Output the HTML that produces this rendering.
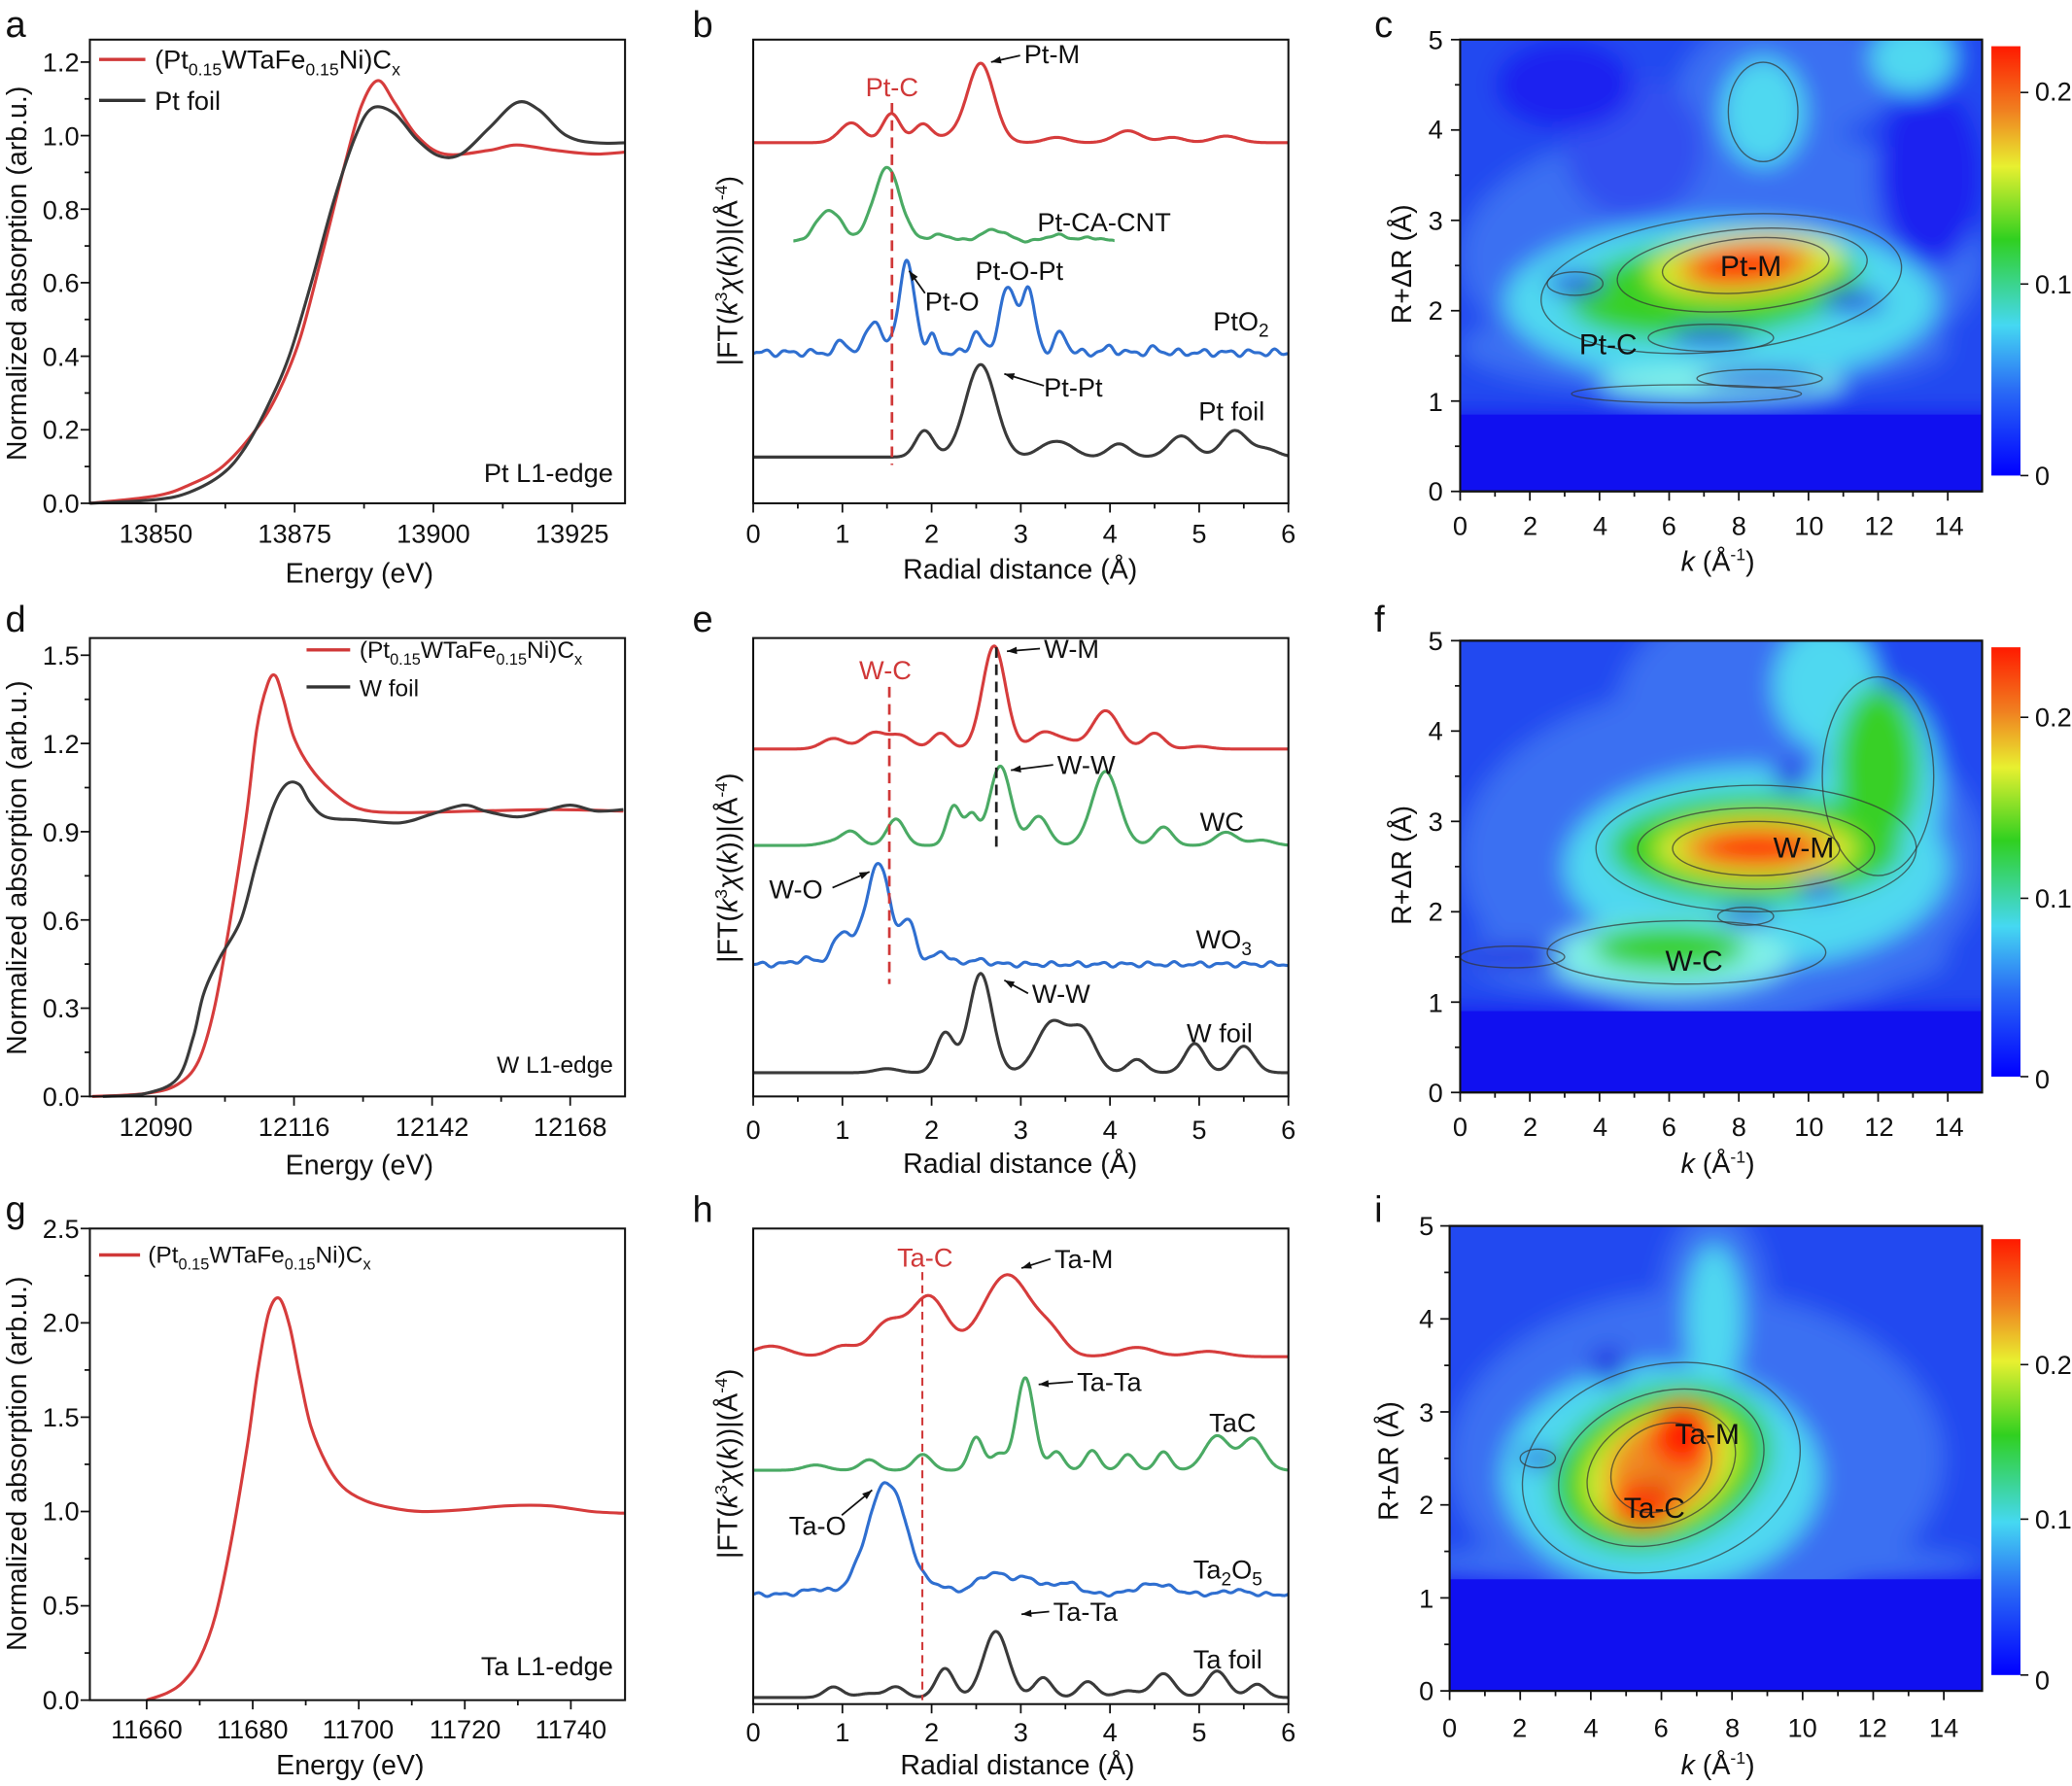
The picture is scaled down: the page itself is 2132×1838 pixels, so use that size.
<!DOCTYPE html>
<html><head><meta charset="utf-8"><style>
html,body{margin:0;padding:0;background:#fff}
svg{display:block}
text{font-family:"Liberation Sans",Arial,sans-serif;fill:#111}
.t{font-size:20px}.tt{font-size:21px}.L{font-size:28px}.s{font-size:20px}
</style></head><body>
<svg id="S" width="2132" height="1838" viewBox="0 0 1568 1352" preserveAspectRatio="none" xmlns="http://www.w3.org/2000/svg">
<defs>
<filter id="bl" x="-50%" y="-50%" width="200%" height="200%"><feGaussianBlur stdDeviation="9"/></filter>
<clipPath id="cc"><rect x="1105" y="30" width="395" height="342"/></clipPath>
<clipPath id="cf"><rect x="1105" y="485" width="395" height="342"/></clipPath>
<clipPath id="ci"><rect x="1097" y="928" width="403" height="352"/></clipPath>
<clipPath id="ca"><rect x="68" y="0" width="405" height="390"/></clipPath>
<clipPath id="cd"><rect x="68" y="470" width="405" height="370"/></clipPath>
<clipPath id="cg"><rect x="68" y="920" width="405" height="370"/></clipPath>
<linearGradient id="cb" x1="0" y1="1" x2="0" y2="0">
<stop offset="0" stop-color="#0000ff"/><stop offset="0.2" stop-color="#2a6cf5"/><stop offset="0.35" stop-color="#45d8f2"/><stop offset="0.55" stop-color="#30d020"/><stop offset="0.72" stop-color="#e8f030"/><stop offset="0.85" stop-color="#f08020"/><stop offset="1" stop-color="#ff1a00"/></linearGradient>
</defs>
<g id="G"></g>

<text class="L" x="4" y="28">a</text><text class="L" x="524" y="28">b</text><text class="L" x="1040" y="28">c</text>
<text class="L" x="4" y="478">d</text><text class="L" x="524" y="478">e</text><text class="L" x="1040" y="478">f</text>
<text class="L" x="4" y="925">g</text><text class="L" x="524" y="925">h</text><text class="L" x="1040" y="925">i</text>

<!-- a -->
<g class="t" text-anchor="end"><text x="60" y="388">0.0</text><text x="60" y="332">0.2</text><text x="60" y="277">0.4</text><text x="60" y="221">0.6</text><text x="60" y="166">0.8</text><text x="60" y="110">1.0</text><text x="60" y="54">1.2</text></g>
<g class="t" text-anchor="middle"><text x="118" y="411">13850</text><text x="223" y="411">13875</text><text x="328" y="411">13900</text><text x="433" y="411">13925</text></g>
<text class="tt" x="272" y="441" text-anchor="middle">Energy (eV)</text>
<text class="tt" transform="translate(20,207) rotate(-90)" text-anchor="middle">Normalized absorption (arb.u.)</text>
<line x1="75" y1="45" x2="110" y2="45" stroke="#d03838" stroke-width="2.5"/><line x1="75" y1="76" x2="110" y2="76" stroke="#333" stroke-width="2.5"/>
<text class="s" x="117" y="52">(Pt<tspan font-size="13" dy="5">0.15</tspan><tspan dy="-5">WTaFe</tspan><tspan font-size="13" dy="5">0.15</tspan><tspan dy="-5">Ni)C</tspan><tspan font-size="13" dy="5">x</tspan></text>
<text class="s" x="117" y="83">Pt foil</text>
<text class="s" x="464" y="365" text-anchor="end">Pt L1-edge</text>

<!-- b -->
<g class="t" text-anchor="middle"><text x="570" y="411">0</text><text x="637.5" y="411">1</text><text x="705" y="411">2</text><text x="772.5" y="411">3</text><text x="840" y="411">4</text><text x="907.5" y="411">5</text><text x="975" y="411">6</text></g>
<text class="tt" x="772" y="438" text-anchor="middle">Radial distance (Å)</text>
<text class="tt" transform="translate(558,205) rotate(-90)" text-anchor="middle">|FT(<tspan font-style="italic">k</tspan><tspan font-size="13" dy="-8">3</tspan><tspan dy="8" font-style="italic">χ</tspan>(<tspan font-style="italic">k</tspan>))|(Å<tspan font-size="13" dy="-8">-4</tspan><tspan dy="8">)</tspan></text>
<line x1="675" y1="78" x2="675" y2="352" stroke="#d03838" stroke-width="2" stroke-dasharray="8,5"/>
<text class="s" x="675" y="73" text-anchor="middle" style="fill:#d03838">Pt-C</text>
<text class="s" x="775" y="48">Pt-M</text>
<text class="s" x="785" y="175">Pt-CA-CNT</text>
<text class="s" x="738" y="212">Pt-O-Pt</text>
<text class="s" x="700" y="235">Pt-O</text>
<text class="s" x="918" y="250">PtO<tspan font-size="14" dy="5">2</tspan></text>
<text class="s" x="790" y="300">Pt-Pt</text>
<text class="s" x="907" y="318">Pt foil</text>

<!-- c -->
<g class="t" text-anchor="end"><text x="1092" y="379">0</text><text x="1092" y="311">1</text><text x="1092" y="242">2</text><text x="1092" y="174">3</text><text x="1092" y="105">4</text><text x="1092" y="37">5</text></g>
<g class="t" text-anchor="middle"><text x="1105" y="405">0</text><text x="1158" y="405">2</text><text x="1211" y="405">4</text><text x="1263" y="405">6</text><text x="1316" y="405">8</text><text x="1369" y="405">10</text><text x="1422" y="405">12</text><text x="1475" y="405">14</text></g>
<text class="tt" x="1300" y="432" text-anchor="middle"><tspan font-style="italic">k</tspan> (Å<tspan font-size="13" dy="-8">-1</tspan><tspan dy="8">)</tspan></text>
<text class="tt" transform="translate(1068,200) rotate(-90)" text-anchor="middle">R+ΔR (Å)</text>
<g class="t"><text x="1540" y="76">0.2</text><text x="1540" y="222">0.1</text><text x="1540" y="367">0</text></g>

<!-- d -->
<g class="t" text-anchor="end"><text x="60" y="837">0.0</text><text x="60" y="770">0.3</text><text x="60" y="704">0.6</text><text x="60" y="637">0.9</text><text x="60" y="570">1.2</text><text x="60" y="503">1.5</text></g>
<g class="t" text-anchor="middle"><text x="118" y="860">12090</text><text x="222.5" y="860">12116</text><text x="327" y="860">12142</text><text x="431.5" y="860">12168</text></g>
<text class="tt" x="272" y="889" text-anchor="middle">Energy (eV)</text>
<text class="tt" transform="translate(20,657) rotate(-90)" text-anchor="middle">Normalized absorption (arb.u.)</text>
<line x1="232" y1="492" x2="265" y2="492" stroke="#d03838" stroke-width="2.5"/><line x1="232" y1="520" x2="265" y2="520" stroke="#333" stroke-width="2.5"/>
<text x="272" y="498" font-size="18">(Pt<tspan font-size="12" dy="5">0.15</tspan><tspan dy="-5">WTaFe</tspan><tspan font-size="12" dy="5">0.15</tspan><tspan dy="-5">Ni)C</tspan><tspan font-size="12" dy="5">x</tspan></text>
<text x="272" y="527" font-size="18">W foil</text>
<text x="464" y="812" font-size="18" text-anchor="end">W L1-edge</text>

<!-- e -->
<g class="t" text-anchor="middle"><text x="570" y="862">0</text><text x="637.5" y="862">1</text><text x="705" y="862">2</text><text x="772.5" y="862">3</text><text x="840" y="862">4</text><text x="907.5" y="862">5</text><text x="975" y="862">6</text></g>
<text class="tt" x="772" y="888" text-anchor="middle">Radial distance (Å)</text>
<text class="tt" transform="translate(558,657) rotate(-90)" text-anchor="middle">|FT(<tspan font-style="italic">k</tspan><tspan font-size="13" dy="-8">3</tspan><tspan dy="8" font-style="italic">χ</tspan>(<tspan font-style="italic">k</tspan>))|(Å<tspan font-size="13" dy="-8">-4</tspan><tspan dy="8">)</tspan></text>
<line x1="673" y1="520" x2="673" y2="745" stroke="#d03838" stroke-width="2" stroke-dasharray="8,5"/>
<line x1="754" y1="490" x2="754" y2="645" stroke="#222" stroke-width="2" stroke-dasharray="8,5"/>
<text class="s" x="670" y="514" text-anchor="middle" style="fill:#d03838">W-C</text>
<text class="s" x="790" y="498">W-M</text>
<text class="s" x="800" y="586">W-W</text>
<text class="s" x="908" y="629">WC</text>
<text class="s" x="582" y="680">W-O</text>
<text class="s" x="905" y="718">WO<tspan font-size="14" dy="5">3</tspan></text>
<text class="s" x="781" y="759">W-W</text>
<text class="s" x="898" y="789">W foil</text>

<!-- f -->
<g class="t" text-anchor="end"><text x="1092" y="834">0</text><text x="1092" y="766">1</text><text x="1092" y="697">2</text><text x="1092" y="629">3</text><text x="1092" y="560">4</text><text x="1092" y="492">5</text></g>
<g class="t" text-anchor="middle"><text x="1105" y="860">0</text><text x="1158" y="860">2</text><text x="1211" y="860">4</text><text x="1263" y="860">6</text><text x="1316" y="860">8</text><text x="1369" y="860">10</text><text x="1422" y="860">12</text><text x="1475" y="860">14</text></g>
<text class="tt" x="1300" y="888" text-anchor="middle"><tspan font-style="italic">k</tspan> (Å<tspan font-size="13" dy="-8">-1</tspan><tspan dy="8">)</tspan></text>
<text class="tt" transform="translate(1068,655) rotate(-90)" text-anchor="middle">R+ΔR (Å)</text>
<g class="t"><text x="1540" y="550">0.2</text><text x="1540" y="687">0.1</text><text x="1540" y="824">0</text></g>

<!-- g -->
<g class="t" text-anchor="end"><text x="60" y="1294">0.0</text><text x="60" y="1222">0.5</text><text x="60" y="1151">1.0</text><text x="60" y="1080">1.5</text><text x="60" y="1008">2.0</text><text x="60" y="937">2.5</text></g>
<g class="t" text-anchor="middle"><text x="111" y="1316">11660</text><text x="191" y="1316">11680</text><text x="271" y="1316">11700</text><text x="352" y="1316">11720</text><text x="432" y="1316">11740</text></g>
<text class="tt" x="265" y="1343" text-anchor="middle">Energy (eV)</text>
<text class="tt" transform="translate(20,1108) rotate(-90)" text-anchor="middle">Normalized absorption (arb.u.)</text>
<line x1="75" y1="950" x2="106" y2="950" stroke="#d03838" stroke-width="2.5"/>
<text x="112" y="956" font-size="18">(Pt<tspan font-size="12" dy="5">0.15</tspan><tspan dy="-5">WTaFe</tspan><tspan font-size="12" dy="5">0.15</tspan><tspan dy="-5">Ni)C</tspan><tspan font-size="12" dy="5">x</tspan></text>
<text class="s" x="464" y="1268" text-anchor="end">Ta L1-edge</text>

<!-- h -->
<g class="t" text-anchor="middle"><text x="570" y="1318">0</text><text x="637.5" y="1318">1</text><text x="705" y="1318">2</text><text x="772.5" y="1318">3</text><text x="840" y="1318">4</text><text x="907.5" y="1318">5</text><text x="975" y="1318">6</text></g>
<text class="tt" x="770" y="1343" text-anchor="middle">Radial distance (Å)</text>
<text class="tt" transform="translate(558,1108) rotate(-90)" text-anchor="middle">|FT(<tspan font-style="italic">k</tspan><tspan font-size="13" dy="-8">3</tspan><tspan dy="8" font-style="italic">χ</tspan>(<tspan font-style="italic">k</tspan>))|(Å<tspan font-size="13" dy="-8">-4</tspan><tspan dy="8">)</tspan></text>
<line x1="698" y1="963" x2="698" y2="1287" stroke="#d03838" stroke-width="1.5" stroke-dasharray="6,4"/>
<text class="s" x="700" y="959" text-anchor="middle" style="fill:#d03838">Ta-C</text>
<text class="s" x="798" y="960">Ta-M</text>
<text class="s" x="815" y="1053">Ta-Ta</text>
<text class="s" x="915" y="1084">TaC</text>
<text class="s" x="597" y="1162">Ta-O</text>
<text class="s" x="903" y="1195">Ta<tspan font-size="14" dy="5">2</tspan><tspan dy="-5">O</tspan><tspan font-size="14" dy="5">5</tspan></text>
<text class="s" x="797" y="1227">Ta-Ta</text>
<text class="s" x="903" y="1263">Ta foil</text>

<!-- i -->
<g class="t" text-anchor="end"><text x="1085" y="1287">0</text><text x="1085" y="1217">1</text><text x="1085" y="1146">2</text><text x="1085" y="1076">3</text><text x="1085" y="1005">4</text><text x="1085" y="935">5</text></g>
<g class="t" text-anchor="middle"><text x="1097" y="1315">0</text><text x="1150" y="1315">2</text><text x="1204" y="1315">4</text><text x="1257" y="1315">6</text><text x="1311" y="1315">8</text><text x="1364" y="1315">10</text><text x="1417" y="1315">12</text><text x="1471" y="1315">14</text></g>
<text class="tt" x="1300" y="1343" text-anchor="middle"><tspan font-style="italic">k</tspan> (Å<tspan font-size="13" dy="-8">-1</tspan><tspan dy="8">)</tspan></text>
<text class="tt" transform="translate(1058,1106) rotate(-90)" text-anchor="middle">R+ΔR (Å)</text>
<g class="t"><text x="1540" y="1040">0.2</text><text x="1540" y="1157">0.1</text><text x="1540" y="1279">0</text></g>

<g id="T"></g>
<text x="1325" y="209" font-size="22" text-anchor="middle">Pt-M</text>
<text x="1217" y="268" font-size="22" text-anchor="middle">Pt-C</text>
<text x="1365" y="649" font-size="22" text-anchor="middle">W-M</text>
<text x="1282" y="735" font-size="22" text-anchor="middle">W-C</text>
<text x="1292" y="1093" font-size="22" text-anchor="middle">Ta-M</text>
<text x="1252" y="1149" font-size="22" text-anchor="middle">Ta-C</text>
</svg>
<script>
const NS="http://www.w3.org/2000/svg",G=document.getElementById('G'),T=document.getElementById('T');
function el(p,t,a){const e=document.createElementNS(NS,t);for(const k in a)e.setAttribute(k,a[k]);p.appendChild(e);return e;}
function cr(p){let d='M'+p[0][0].toFixed(1)+','+p[0][1].toFixed(1);for(let i=0;i<p.length-1;i++){const a=p[Math.max(0,i-1)],b=p[i],c=p[i+1],e=p[Math.min(p.length-1,i+2)];
d+=' C'+(b[0]+(c[0]-a[0])/6).toFixed(1)+','+(b[1]+(c[1]-a[1])/6).toFixed(1)+' '+(c[0]-(e[0]-b[0])/6).toFixed(1)+','+(c[1]-(e[1]-b[1])/6).toFixed(1)+' '+c[0].toFixed(1)+','+c[1].toFixed(1);}return d;}
function line(d,col,w,clip){const a={d:d,fill:'none',stroke:col,'stroke-width':w||2.3,'stroke-linejoin':'round'};if(clip)a['clip-path']='url(#'+clip+')';el(G,'path',a);}
const R='#d63c3c',K='#3a3a3a',Gr='#4aaa64',B='#2f6fd0';
function xan(pts,fx,fy,col,clip){line(cr(pts.map(p=>[fx(p[0]),fy(p[1])])),col,2.3,clip);}
let fx=e=>118+(e-13850)*4.2,fy=v=>381-v*278.3;
xan([[13838,0],[13850,0.02],[13856,0.05],[13862,0.1],[13868,0.2],[13872,0.3],[13876,0.45],[13880,0.68],[13884,0.92],[13887,1.08],[13890,1.15],[13893,1.09],[13897,1.0],[13902,0.95],[13910,0.96],[13915,0.975],[13922,0.96],[13930,0.95],[13940,0.965]],fx,fy,R,'ca');
xan([[13838,0],[13850,0.01],[13856,0.03],[13862,0.08],[13866,0.15],[13870,0.26],[13874,0.4],[13878,0.6],[13882,0.82],[13886,1.0],[13889,1.075],[13893,1.06],[13897,0.99],[13901,0.945],[13905,0.95],[13910,1.02],[13915,1.09],[13919,1.07],[13924,1.0],[13930,0.98],[13940,0.985]],fx,fy,K,'ca');
fx=e=>118+(e-12090)*4.019;fy=v=>830-v*222.7;
xan([[12078,0],[12088,0.01],[12094,0.04],[12098,0.12],[12101,0.3],[12104,0.6],[12107,0.95],[12109,1.25],[12111,1.4],[12112.5,1.43],[12114,1.35],[12116,1.22],[12119,1.12],[12123,1.04],[12128,0.98],[12135,0.965],[12150,0.97],[12165,0.975],[12178,0.97]],fx,fy,R,'cd');
xan([[12080,0],[12088,0.01],[12094,0.06],[12097,0.2],[12099,0.35],[12102,0.47],[12106,0.6],[12109,0.8],[12112,0.98],[12114.5,1.06],[12117,1.06],[12119,1.0],[12122,0.95],[12128,0.94],[12136,0.93],[12142,0.96],[12148,0.99],[12152,0.97],[12158,0.95],[12163,0.97],[12168,0.99],[12173,0.97],[12178,0.975]],fx,fy,K,'cd');
fx=e=>111+(e-11660)*4.01;fy=v=>1287-v*142.8;
xan([[11660,0],[11664,0.04],[11667,0.1],[11670,0.22],[11673,0.45],[11676,0.85],[11679,1.35],[11681,1.75],[11683,2.05],[11685,2.13],[11687,1.98],[11689,1.7],[11691,1.45],[11694,1.25],[11697,1.13],[11701,1.06],[11706,1.02],[11712,1.0],[11720,1.01],[11728,1.03],[11736,1.03],[11744,1.0],[11751,0.99]],fx,fy,R,'cg');
function ft(base,peaks,x0,x1,col,nz,seed,tilt){const p=[];for(let r=x0;r<=x1+1e-6;r+=0.02){let y=base+(tilt||0)*(r-3);for(const q of peaks)y-=q[1]*Math.exp(-Math.pow(r-q[0],2)/(2*Math.pow(q[2]||0.13,2)));
if(nz)y+=nz*(Math.sin(r*23+seed)+0.6*Math.sin(r*41+seed*2));p.push([570+r*67.5,y]);}line(cr(p),col);}
ft(108,[[1.1,15],[1.55,22,0.1],[1.9,14,0.1],[2.2,4],[2.55,60,0.15],[3.4,4],[4.2,9,0.15],[4.7,4],[5.3,5,0.15]],0,6,R);
ft(183,[[0.85,24,0.14],[1.5,56,0.15],[2.1,5],[2.7,9,0.15],[3.4,5],[3.8,3]],0.45,4.05,Gr,0.6,1);
ft(267,[[1.0,9,0.06],[1.35,25,0.08],[1.72,68,0.09],[2.0,12,0.05],[2.5,16,0.06],[2.85,48,0.09],[3.08,46,0.08],[3.45,16,0.06],[4.0,4,0.06],[4.5,3,0.06]],0,6,B,1.8,2);
ft(346,[[1.92,20,0.1],[2.55,70,0.17],[3.3,8],[3.5,8],[4.1,10,0.12],[4.8,16,0.14],[5.4,20,0.14],[5.75,6]],0,6,K);
ft(567,[[0.9,8],[1.35,12],[1.65,10],[2.1,12,0.1],[2.7,78,0.13],[3.25,12],[3.5,6],[3.95,29,0.15],[4.5,12,0.11],[5.0,2]],0,6,R);
ft(640,[[0.9,3],[1.1,10,0.1],[1.6,20,0.1],[2.25,30,0.08],[2.45,22,0.07],[2.77,60,0.12],[3.2,22,0.11],[3.95,56,0.15],[4.6,14,0.1],[5.3,10,0.12],[5.7,4]],0,6,Gr);
ft(730,[[0.6,4],[1.0,24,0.1],[1.4,76,0.14],[1.75,30,0.08],[2.1,10,0.08],[2.5,3]],0,6,B,1.3,3);
ft(812,[[1.5,3],[2.15,30,0.1],[2.55,75,0.13],[3.35,38,0.17],[3.7,30,0.14],[4.3,10,0.1],[4.95,22,0.11],[5.5,20,0.12]],0,6,K);
ft(1027,[[0.2,8,0.2],[1.0,8,0.15],[1.5,25,0.18],[1.97,45,0.2],[2.85,62,0.28],[3.35,12,0.15],[4.3,7,0.2],[5.1,4,0.2]],0,6,R);
ft(1113,[[0.7,4],[1.3,8,0.1],[1.9,12,0.1],[2.5,25,0.08],[2.75,12,0.08],[3.05,70,0.1],[3.4,14,0.08],[3.8,15,0.08],[4.2,12,0.08],[4.6,14,0.08],[5.2,26,0.14],[5.6,24,0.13]],0,6,Gr);
ft(1207,[[0.7,4],[1.5,85,0.22],[2.1,5,0.1],[2.7,16,0.2],[3.1,10],[3.5,9,0.15],[4.5,8,0.2],[5.4,3]],0,6,B,1.0,4);
ft(1285,[[0.9,8,0.1],[1.3,3],[1.6,8,0.1],[2.15,22,0.1],[2.72,50,0.14],[3.25,15,0.1],[3.75,12,0.1],[4.2,5],[4.6,18,0.12],[5.2,20,0.12],[5.65,10,0.1]],0,6,K);
function arr(x1,y1,x2,y2){el(T,'line',{x1,y1,x2,y2,stroke:'#111','stroke-width':1.3});const a=Math.atan2(y2-y1,x2-x1),s=8;
el(T,'polygon',{points:`${x2},${y2} ${x2-s*Math.cos(a-0.35)},${y2-s*Math.sin(a-0.35)} ${x2-s*Math.cos(a+0.35)},${y2-s*Math.sin(a+0.35)}`,fill:'#111'});}
arr(772,42,750,47);arr(700,222,688,205);arr(790,292,760,283);
arr(787,491,762,493);arr(797,579,765,583);arr(630,672,658,660);arr(778,752,760,742);
arr(795,953,773,960);arr(812,1046,786,1048);arr(637,1147,660,1128);arr(794,1220,773,1222);
function hm(clip,x0,y0,w,h,kx,ry,cut,blobs,cont){const g=el(G,'g',{'clip-path':'url(#'+clip+')'});el(g,'rect',{x:x0,y:y0,width:w,height:h,fill:'#1414f2'});
const gb=el(g,'g',{filter:'url(#bl)'});el(gb,'rect',{x:x0-20,y:y0-20,width:w+40,height:h+20-cut*ry,fill:'#2248f0'});
for(const b of blobs){el(gb,'ellipse',{cx:x0+b[0]*kx,cy:y0+h-b[1]*ry,rx:b[2]*kx,ry:b[3]*ry,fill:b[4],transform:`rotate(${b[5]||0} ${x0+b[0]*kx} ${y0+h-b[1]*ry})`});}
el(g,'rect',{x:x0,y:y0+h-cut*ry,width:w,height:cut*ry,fill:'#1010f0'});
for(const c of cont){el(g,'ellipse',{cx:x0+c[0]*kx,cy:y0+h-c[1]*ry,rx:c[2]*kx,ry:c[3]*ry,fill:'none',stroke:'#333','stroke-width':1,opacity:0.7,transform:`rotate(${c[4]||0} ${x0+c[0]*kx} ${y0+h-c[1]*ry})`});}
el(G,'rect',{x:x0,y:y0,width:w,height:h,fill:'none',stroke:'#111','stroke-width':1.5});}
const LB='#3a70f2',CY='#50d8f0',CY2='#80f0e8',GN='#38d028',YE='#d8ee30',OR='#f08a20',RD='#ff2000';
hm('cc',1105,30,395,342,26.35,68.4,0.85,[
[7.5,2.6,7.5,1.5,LB],[7,1.6,7,0.5,LB],[8.5,4,2.5,1.2,LB],[5,3.8,2,0.8,'#3050f0'],[10.5,4.6,2,0.6,LB],[3,4.5,2,0.5,'#1a20f0'],[13.5,3.5,1.5,1,'#1a20f0'],
[7.5,2.1,6.2,0.9,CY],[8.7,4.2,1.2,0.6,CY],[7.5,1.2,3.5,0.2,CY2],[13,4.8,1.2,0.4,CY],
[7.3,2.25,4.2,0.55,GN,-6],[8.2,2.5,2.8,0.35,YE,-5],[8.2,2.5,2,0.25,OR,-5],[8.1,2.5,1.4,0.18,RD,-5],
[3.3,2.3,0.8,0.12,'#2030e0'],[7.2,1.7,1.2,0.1,'#2030e0'],[8.6,1.25,1.8,0.1,'#1c30e0'],[11.3,2.1,0.9,0.12,'#2030e0']],
[[7.5,2.3,5.2,0.75,-6],[8.1,2.45,3.6,0.45,-5],[8.2,2.5,2.4,0.3,-5],[8.7,4.2,1.0,0.55],[7.2,1.7,1.8,0.15],[6.5,1.08,3.3,0.1],[8.6,1.25,1.8,0.1],[3.3,2.3,0.8,0.13]]);
hm('cf',1105,485,395,342,26.35,68.4,0.9,[
[7.5,2.6,7.5,1.9,LB],[8,4.2,3.5,1.2,LB],[7,1.5,7,0.5,LB],
[8.5,2.5,5.5,1.1,CY],[12,3.3,1.8,1.2,CY],[10.5,4.5,1.5,0.7,CY],[6,1.5,3.5,0.4,CY2],
[8.5,2.7,4.2,0.6,GN],[12,3.6,1.2,0.9,GN],[6,1.6,2.2,0.25,GN],[8.5,2.7,2.9,0.35,YE],[8.5,2.7,2.2,0.25,OR],[8.5,2.72,1.6,0.17,RD],
[8.2,1.95,0.8,0.1,'#2030e0'],[1.5,1.5,1.5,0.12,'#2030e0'],[10.3,2.25,0.6,0.1,'#2030e0'],[9.5,3.5,0.5,0.15,'#2030e0']],
[[8.5,2.7,4.6,0.7],[8.5,2.7,3.4,0.45],[8.5,2.7,2.4,0.3],[6.5,1.55,4,0.35],[12,3.5,1.6,1.1],[8.2,1.95,0.8,0.1],[1.5,1.5,1.5,0.12]]);
hm('ci',1097,928,403,352,26.7,70.4,1.2,[
[7,2.5,7,1.8,LB],[7,1.35,8,0.25,LB],[7.5,4.2,1.5,1,LB],
[6,2.3,4.5,1.2,CY],[7.5,4.0,0.8,0.8,CY],[6,2.4,3.2,0.85,GN,-20],[6,2.4,2.3,0.6,YE,-25],[6,2.4,1.6,0.5,OR,-30],[6.6,2.75,0.9,0.35,RD],[5.5,2.0,1.0,0.25,'#ff3a00'],
[2.5,2.5,0.5,0.1,'#2030e0'],[4.5,3.5,0.5,0.2,'#2030e0'],[5.8,2.2,0.4,0.12,'#e05010']],
[[6,2.4,4,1.1,-15],[6,2.4,3,0.8,-20],[6,2.4,2.2,0.6,-25],[6,2.4,1.5,0.45,-30],[2.5,2.5,0.5,0.1]]);
[[1507,35,325],[1507,490,325],[1507,938,330]].forEach(c=>{el(G,'rect',{x:c[0],y:c[1],width:22,height:c[2],fill:'url(#cb)'});});
function cbt(ys){ys.forEach(y=>el(G,'line',{x1:1529,y1:y,x2:1535,y2:y,stroke:'#111','stroke-width':1.2}));}
cbt([70,215,360]);cbt([543,680,815]);cbt([1033,1150,1268]);
function box(x0,y0,x1,y1,xt,yt){el(G,'rect',{x:x0,y:y0,width:x1-x0,height:y1-y0,fill:'none',stroke:'#111','stroke-width':1.5});
xt.forEach((x,i)=>el(G,'line',{x1:x,y1:y1,x2:x,y2:y1+(i%2?4:7),stroke:'#111','stroke-width':1.3}));
yt.forEach((y,i)=>el(G,'line',{x1:x0,y1:y,x2:x0-(i%2?4:7),y2:y,stroke:'#111','stroke-width':1.3}));}
const rng=(a,b,n)=>Array.from({length:n},(_,i)=>a+(b-a)*i/(n-1));
box(68,30,473,381,rng(118,433,7),rng(381,47,13));
box(570,30,975,381,rng(570,975,13),[]);
box(1105,30,1500,372,rng(1105,1474,15),rng(372,30,11));
box(68,483,473,830,rng(118,431.5,7),rng(830,496,11));
box(570,483,975,830,rng(570,975,13),[]);
box(1105,485,1500,827,rng(1105,1474,15),rng(827,485,11));
box(68,930,473,1287,rng(111,432,9),rng(1287,930,11));
box(570,930,975,1290,rng(570,975,13),[]);
box(1097,928,1500,1280,rng(1097,1471,15),rng(1280,928,11));
</script>
</body></html>
